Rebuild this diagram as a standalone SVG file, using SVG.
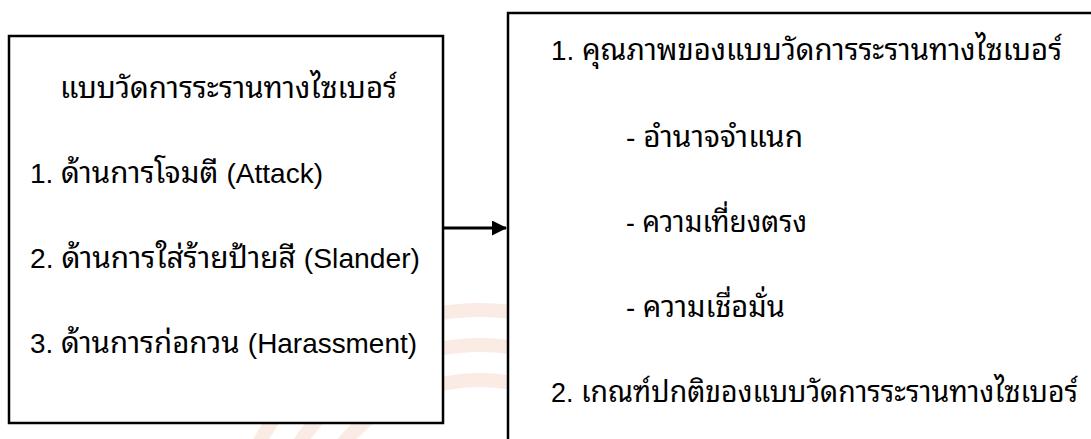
<svg xmlns="http://www.w3.org/2000/svg" width="1091" height="439" viewBox="0 0 1091 439">
  <defs>
    <style>
      .box { fill: #ffffff; stroke: #000000; stroke-width: 2.5; }
      .t { font-family: "Liberation Sans", "Noto Sans Thai Looped", "Loma", "Garuda", "Noto Sans Thai", "Noto Sans", sans-serif; font-size: 29px; fill: #000000; }
      .l { font-size: 27.5px; }
      .edge { stroke: #000000; stroke-width: 3; fill: none; }
      .wm { fill: none; stroke: #f8e2d8; stroke-width: 14; opacity: 0.7; }
    </style>
    <marker id="arrow" viewBox="0 0 15 15" refX="14" refY="7.5" markerWidth="15" markerHeight="15" orient="auto" markerUnits="userSpaceOnUse">
      <path d="M0,0 L15,7.5 L0,15 z" fill="#000000"/>
    </marker>
  </defs>
  <rect width="1091" height="439" fill="#ffffff"/>
  <g id="watermark">
    <circle class="wm" cx="480" cy="560" r="250"/>
    <circle class="wm" cx="480" cy="560" r="215"/>
    <circle class="wm" cx="480" cy="560" r="180"/>
  </g>
  <g id="connectors">
    <line class="edge" x1="443" y1="228" x2="506" y2="228" marker-end="url(#arrow)"/>
  </g>
  <g id="node-scale">
    <rect class="box" x="9" y="36" width="434" height="387"/>
    <text class="t" x="60" y="98" textLength="337" lengthAdjust="spacingAndGlyphs">แบบวัดการระรานทางไซเบอร์</text>
    <text class="t" x="30" y="183" textLength="293" lengthAdjust="spacingAndGlyphs"><tspan class="l">1. </tspan>ด้านการโจมตี <tspan class="l">(Attack)</tspan></text>
    <text class="t" x="30" y="268" textLength="390" lengthAdjust="spacingAndGlyphs"><tspan class="l">2. </tspan>ด้านการใส่ร้ายป้ายสี <tspan class="l">(Slander)</tspan></text>
    <text class="t" x="30" y="353" textLength="387" lengthAdjust="spacingAndGlyphs"><tspan class="l">3. </tspan>ด้านการก่อกวน <tspan class="l">(Harassment)</tspan></text>
  </g>
  <g id="node-quality">
    <rect class="box" x="508" y="13" width="600" height="440"/>
    <text class="t" x="551" y="60" textLength="511" lengthAdjust="spacingAndGlyphs"><tspan class="l">1. </tspan>คุณภาพของแบบวัดการระรานทางไซเบอร์</text>
    <text class="t" x="626" y="147" textLength="177" lengthAdjust="spacingAndGlyphs"><tspan class="l">- </tspan>อำนาจจำแนก</text>
    <text class="t" x="626" y="232" textLength="181" lengthAdjust="spacingAndGlyphs"><tspan class="l">- </tspan>ความเที่ยงตรง</text>
    <text class="t" x="626" y="317" textLength="159" lengthAdjust="spacingAndGlyphs"><tspan class="l">- </tspan>ความเชื่อมั่น</text>
    <text class="t" x="551" y="402" textLength="527" lengthAdjust="spacingAndGlyphs"><tspan class="l">2. </tspan>เกณฑ์ปกติของแบบวัดการระรานทางไซเบอร์</text>
  </g>
</svg>
